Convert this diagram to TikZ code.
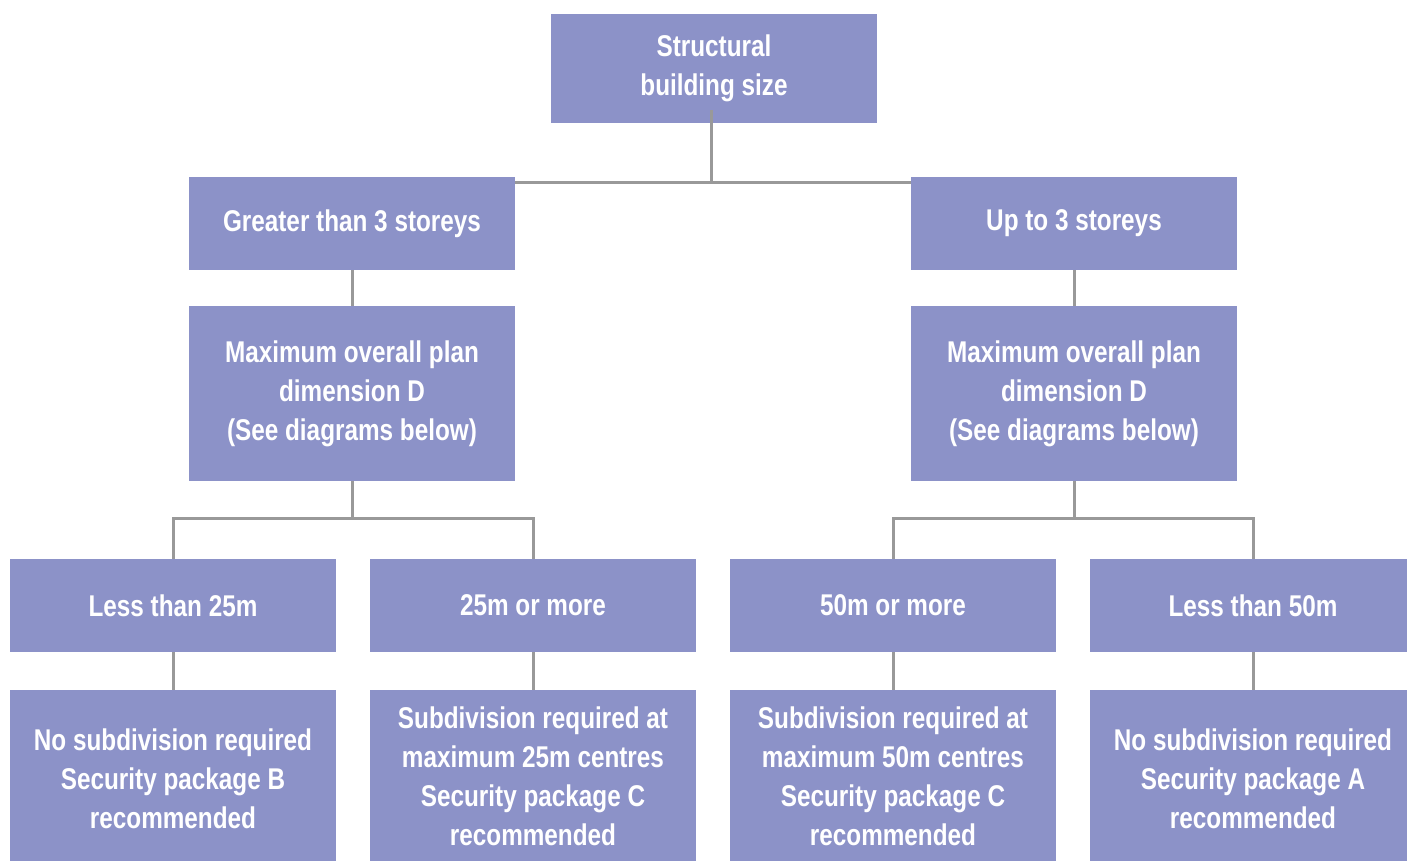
\documentclass[tikz,border=0pt]{standalone}
\usepackage{fontspec}
\setmainfont{Liberation Sans}[FakeStretch=0.81]
\usetikzlibrary{positioning}

\definecolor{boxblue}{HTML}{8C92C8}
\definecolor{linkgray}{HTML}{999999}

\def \boxWidth {326pt}

\tikzset{
  box/.style={fill=boxblue, text=white, font=\bfseries\fontsize{30}{39}\selectfont,
    align=center, minimum width=\boxWidth, inner sep=0pt},
  link/.style={draw=linkgray, line width=3pt}
}

\begin{document}
\begin{tikzpicture}[x=1pt, y=-1pt]
         \useasboundingbox (0,0) rectangle (1407,861);
         \clip (0,0) rectangle (1407,861);
         % top
         \node[box, minimum height=109pt] (size) at (714, 68.5) {Structural\\building size};
         % storeys
         \node[box, minimum height=93pt] (over3) at (352, 223.5) {Greater than 3 storeys};
         \node[box, minimum height=93pt] (upto3) at (1074, 223.5) {Up to 3 storeys};
         \node[box, minimum height=175pt] (dimL) at (352, 393.5) {Maximum overall plan\\dimension D\\(See diagrams below)};
         \node[box, minimum height=175pt] (dimR) at (1074, 393.5) {Maximum overall plan\\dimension D\\(See diagrams below)};
         % lengths
         \node[box, minimum height=93pt] (lt25) at (173, 605.5) {Less than 25m};
         \node[box, minimum height=93pt] (ge25) at (533, 605.5) {25m or more};
         \node[box, minimum height=93pt] (ge50) at (893, 605.5) {50m or more};
         \node[box, minimum height=93pt] (lt50) at (1253, 605.5) {Less than 50m};
         % packages
         \node[box, minimum height=178pt] (pkgB) at (173, 779) {No subdivision required\\Security package B\\recommended};
         \node[box, minimum height=178pt, text depth=6pt] (pkgC1) at (533, 779) {Subdivision required at\\maximum 25m centres\\Security package C\\recommended};
         \node[box, minimum height=178pt, text depth=6pt] (pkgC2) at (893, 779) {Subdivision required at\\maximum 50m centres\\Security package C\\recommended};
         \node[box, minimum height=178pt] (pkgA) at (1253, 779) {No subdivision required\\Security package A\\recommended};

         \draw[link] ([xshift=-3pt, yshift=13pt]size.south) |- ([yshift=-6pt]over3.north east);
         \draw[link] ([xshift=-3pt, yshift=13pt]size.south) |- ([yshift=-6pt]upto3.north west);
         \draw[link] (over3) -- (dimL);
         \draw[link] (upto3) -- (dimR);
         \draw[link] (dimL.south) -- ++(0,37) -| (lt25.north);
         \draw[link] (dimL.south) -- ++(0,37) -| (ge25.north);
         \draw[link] (dimR.south) -- ++(0,37) -| (ge50.north);
         \draw[link] (dimR.south) -- ++(0,37) -| (lt50.north);
         \draw[link] (lt25) -- (pkgB);
         \draw[link] (ge25) -- (pkgC1);
         \draw[link] (ge50) -- (pkgC2);
         \draw[link] (lt50) -- (pkgA);
      \end{tikzpicture}
\end{document}
